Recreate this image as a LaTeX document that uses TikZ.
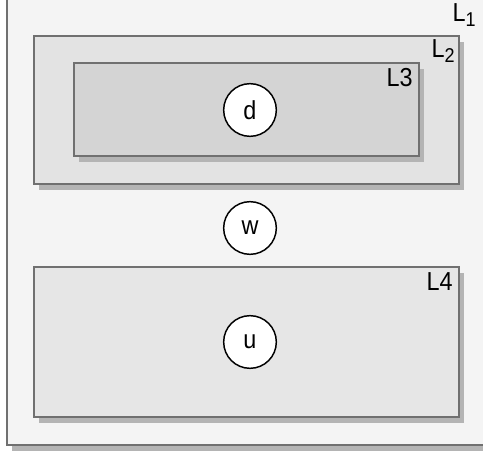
\documentclass[tikz,border=0pt]{standalone}
\usepackage{fontspec}
\setmainfont[FakeStretch=0.9]{Liberation Sans}
\usetikzlibrary{fit,shadows}
\definecolor{bordergray}{HTML}{707070}
\definecolor{shadowgray}{HTML}{B4B4B4}
\definecolor{fillA}{HTML}{F4F4F4}
\definecolor{fillB}{HTML}{E3E3E3}
\definecolor{fillC}{HTML}{D4D4D4}
\definecolor{fillD}{HTML}{E6E6E6}
\newcommand{\mysub}[1]{\raisebox{-3.5pt}{\fontsize{15}{15}\selectfont #1}}
\tikzset{
  layer/.style={draw=bordergray, line width=1.5pt, inner sep=0pt,
    drop shadow={shadow xshift=3.4pt, shadow yshift=-4.5pt, fill=shadowgray, opacity=1}},
  var/.style={circle, draw=black, line width=1.1pt, fill=white, minimum size=39.5pt, inner sep=0pt,
    font=\fontsize{19.5}{23}\selectfont},
  lbl/.style={anchor=base east, inner sep=0pt, font=\fontsize{19.5}{23}\selectfont}
}
\begin{document}
\begin{tikzpicture}[x=0.75pt,y=-0.75pt]
\useasboundingbox (0,0) rectangle (483,452);
\clip (0,0) rectangle (483,452);
\node[layer, fill=fillA, fit={(7,-30)(520,445)}] (L1) {};
\node[layer, fill=fillB, fit={(34,36)(459,184)}] (L2) {};
\node[layer, fill=fillC, fit={(74,63)(419,156)}] (L3) {};
\node[layer, fill=fillD, fit={(34,267)(459,417)}] (L4) {};
\node[lbl] (t1) at (476,22) {L\mysub{1}};
\node[lbl] (t2) at (455,58) {L\mysub{2}};
\node[lbl] (t3) at (413,87) {L3};
\node[lbl] (t4) at (453,291) {L4};
\node[var] (d) at (250,110) {d};
\node[var] (w) at (250,228) {w};
\node[var] (u) at (250,342) {u};
\end{tikzpicture}
\end{document}
